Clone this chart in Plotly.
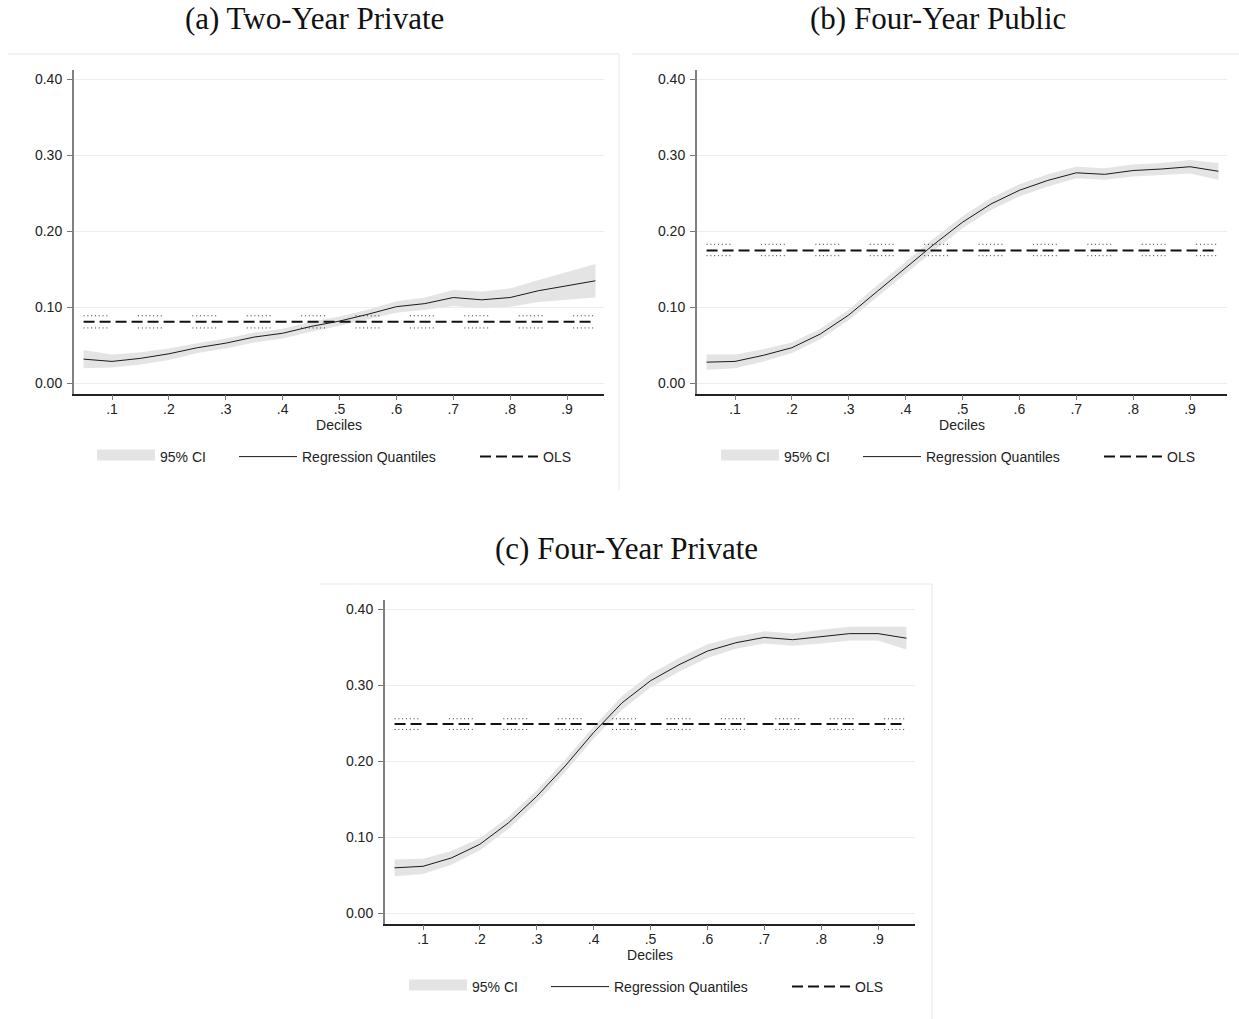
import plotly.graph_objects as go

# Quantile levels at which the regressions were estimated
quantiles = [0.05, 0.10, 0.15, 0.20, 0.25, 0.30, 0.35, 0.40, 0.45, 0.50,
             0.55, 0.60, 0.65, 0.70, 0.75, 0.80, 0.85, 0.90, 0.95]

# (a) Two-Year Private
two_priv_coef = [0.032, 0.029, 0.033, 0.039, 0.047, 0.053, 0.061, 0.066, 0.075, 0.082,
                 0.091, 0.101, 0.105, 0.113, 0.110, 0.113, 0.122, 0.128, 0.135]
two_priv_lo = [0.020, 0.021, 0.025, 0.031, 0.040, 0.046, 0.054, 0.059, 0.068, 0.076,
               0.084, 0.093, 0.097, 0.102, 0.099, 0.101, 0.107, 0.110, 0.113]
two_priv_hi = [0.044, 0.038, 0.041, 0.046, 0.053, 0.059, 0.067, 0.072, 0.081, 0.088,
               0.097, 0.108, 0.113, 0.123, 0.121, 0.125, 0.136, 0.146, 0.157]
two_priv_ols = [0.081, 0.073, 0.089]  # estimate, lower, upper

# (b) Four-Year Public
four_pub_coef = [0.028, 0.029, 0.037, 0.047, 0.065, 0.090, 0.121, 0.152, 0.183, 0.212,
                 0.236, 0.254, 0.267, 0.277, 0.275, 0.280, 0.282, 0.285, 0.279]
four_pub_lo = [0.018, 0.020, 0.029, 0.040, 0.058, 0.083, 0.113, 0.144, 0.175, 0.204,
               0.228, 0.246, 0.259, 0.270, 0.268, 0.272, 0.274, 0.276, 0.268]
four_pub_hi = [0.038, 0.038, 0.045, 0.054, 0.072, 0.097, 0.129, 0.160, 0.191, 0.220,
               0.244, 0.262, 0.275, 0.285, 0.283, 0.288, 0.290, 0.294, 0.290]
four_pub_ols = [0.175, 0.168, 0.183]

# (c) Four-Year Private
four_priv_coef = [0.060, 0.062, 0.073, 0.091, 0.119, 0.154, 0.194, 0.238, 0.277, 0.306,
                  0.327, 0.345, 0.356, 0.363, 0.360, 0.364, 0.368, 0.368, 0.362]
four_priv_lo = [0.049, 0.052, 0.064, 0.083, 0.111, 0.146, 0.186, 0.230, 0.268, 0.297,
                0.318, 0.336, 0.348, 0.355, 0.352, 0.355, 0.359, 0.359, 0.347]
four_priv_hi = [0.071, 0.072, 0.082, 0.099, 0.127, 0.162, 0.202, 0.246, 0.286, 0.315,
                0.336, 0.354, 0.364, 0.371, 0.368, 0.373, 0.377, 0.377, 0.377]
four_priv_ols = [0.249, 0.242, 0.256]

panel_titles = ["(a) Two-Year Private", "(b) Four-Year Public", "(c) Four-Year Private"]
x_tickvals = [0.1, 0.2, 0.3, 0.4, 0.5, 0.6, 0.7, 0.8, 0.9]
x_ticktext = [".1", ".2", ".3", ".4", ".5", ".6", ".7", ".8", ".9"]
y_tickvals = [0.0, 0.1, 0.2, 0.3, 0.4]
legend_names = ["95% CI", "Regression Quantiles", "OLS"]

W, H = 1239, 1019
SANS = "Liberation Sans, Arial, sans-serif"
SERIF = "Liberation Serif, Times New Roman, serif"
BAND = "#e4e4e4"
GRID = "#e8eff2"
FRAME = "#e3eaee"
# groups of short dots separated by a wide gap
DOTS = ",".join(["1px,2.8px"] * 6) + ",1px,30.6px"

panels = [
    dict(coef=two_priv_coef, lo=two_priv_lo, hi=two_priv_hi, ols=two_priv_ols,
         xdom=[74, 604], ydom=[70, 393.5], keys=[97, 239, 480], key_y=457),
    dict(coef=four_pub_coef, lo=four_pub_lo, hi=four_pub_hi, ols=four_pub_ols,
         xdom=[697, 1227], ydom=[70, 393.5], keys=[721, 863, 1104], key_y=457),
    dict(coef=four_priv_coef, lo=four_priv_lo, hi=four_priv_hi, ols=four_priv_ols,
         xdom=[385, 915], ydom=[600, 923.5], keys=[409, 551, 792], key_y=987),
]
title_pos = [[314, 18], [938, 18], [626, 548]]

fig = go.Figure()
layout = dict(
    width=W, height=H,
    margin=dict(l=0, r=0, t=0, b=0),
    paper_bgcolor="white", plot_bgcolor="white",
    font=dict(family=SANS, size=14, color="#222222"),
    annotations=[], shapes=[],
)

legend_count = 0


def next_legend(x_px, y_px):
    """Register a one-entry legend whose key starts near x_px."""
    global legend_count
    legend_count += 1
    name = "legend" if legend_count == 1 else "legend%d" % legend_count
    layout[name] = dict(
        orientation="h", x=(x_px - 5) / W, y=1 - y_px / H,
        xanchor="left", yanchor="middle", itemwidth=58,
        bgcolor="rgba(0,0,0,0)", borderwidth=0,
        font=dict(family=SANS, size=14, color="#222222"),
    )
    return name


for i, p in enumerate(panels):
    n = "" if i == 0 else str(i + 1)
    xa, ya = "x" + n, "y" + n
    lg_ci, lg_q, lg_ols = [next_legend(k, p["key_y"]) for k in p["keys"]]

    # confidence band of the quantile estimates
    fig.add_trace(go.Scatter(
        x=quantiles + quantiles[::-1], y=p["hi"] + p["lo"][::-1],
        xaxis=xa, yaxis=ya, mode="lines", fill="toself", fillcolor=BAND,
        line=dict(width=0, color=BAND), hoverinfo="skip", showlegend=False))
    # legend key for the band
    fig.add_trace(go.Scatter(
        x=[None], y=[None], xaxis=xa, yaxis=ya, mode="lines", fill="toself",
        fillcolor=BAND, line=dict(width=10, color=BAND), name=legend_names[0],
        legend=lg_ci, showlegend=True))

    ends = [quantiles[0], quantiles[-1]]
    est, lo_ci, hi_ci = p["ols"]
    for v in (lo_ci, hi_ci):
        fig.add_trace(go.Scatter(
            x=ends, y=[v, v], xaxis=xa, yaxis=ya, mode="lines",
            line=dict(color="#333333", width=1, dash=DOTS),
            hoverinfo="skip", showlegend=False))
    fig.add_trace(go.Scatter(
        x=ends, y=[est, est], xaxis=xa, yaxis=ya, mode="lines",
        line=dict(color="#111111", width=2, dash="11px,5px"),
        name=legend_names[2], legend=lg_ols))

    fig.add_trace(go.Scatter(
        x=quantiles, y=p["coef"], xaxis=xa, yaxis=ya, mode="lines",
        line=dict(color="#1a1a1a", width=1), name=legend_names[1],
        legend=lg_q))

    layout["xaxis" + n] = dict(
        domain=[p["xdom"][0] / W, p["xdom"][1] / W], anchor=ya,
        range=[0.1 - 38 / 568.75, 0.1 + 492 / 568.75],
        tickmode="array", tickvals=x_tickvals, ticktext=x_ticktext,
        ticks="outside", ticklen=5, tickcolor="#777777", tickwidth=1,
        ticklabelstandoff=-3,
        showline=True, linecolor="#222222", linewidth=1.5,
        showgrid=False, zeroline=False,
        tickfont=dict(family=SANS, size=14, color="#222222"),
        title=dict(text="Deciles", standoff=2,
                   font=dict(family=SANS, size=14, color="#222222")),
    )
    layout["yaxis" + n] = dict(
        domain=[1 - p["ydom"][1] / H, 1 - p["ydom"][0] / H], anchor=xa,
        range=[-0.0132, 0.4122],
        tickmode="array", tickvals=y_tickvals, tickformat=".2f",
        ticks="outside", ticklen=5, tickcolor="#777777", tickwidth=1,
        ticklabelstandoff=2,
        showline=True, linecolor="#808080", linewidth=2,
        showgrid=True, gridcolor=GRID, gridwidth=1, zeroline=False,
        tickfont=dict(family=SANS, size=14, color="#222222"),
    )

    layout["annotations"].append(dict(
        text=panel_titles[i], xref="paper", yref="paper",
        x=title_pos[i][0] / W, y=1 - title_pos[i][1] / H,
        xanchor="center", yanchor="middle", showarrow=False,
        font=dict(family=SERIF, size=31, color="#111111")))

# light outlines of the panel regions
frame_lines = [
    [8, 54, 619, 54], [619, 54, 619, 490],
    [632, 54, 1239, 54],
    [320, 584, 932, 584], [932, 584, 932, 1019],
]
for x0, y0, x1, y1 in frame_lines:
    layout["shapes"].append(dict(
        type="line", xref="paper", yref="paper",
        x0=x0 / W, y0=1 - y0 / H, x1=x1 / W, y1=1 - y1 / H,
        line=dict(color=FRAME, width=1)))

fig.update_layout(**layout)
fig.write_html("out.html")
